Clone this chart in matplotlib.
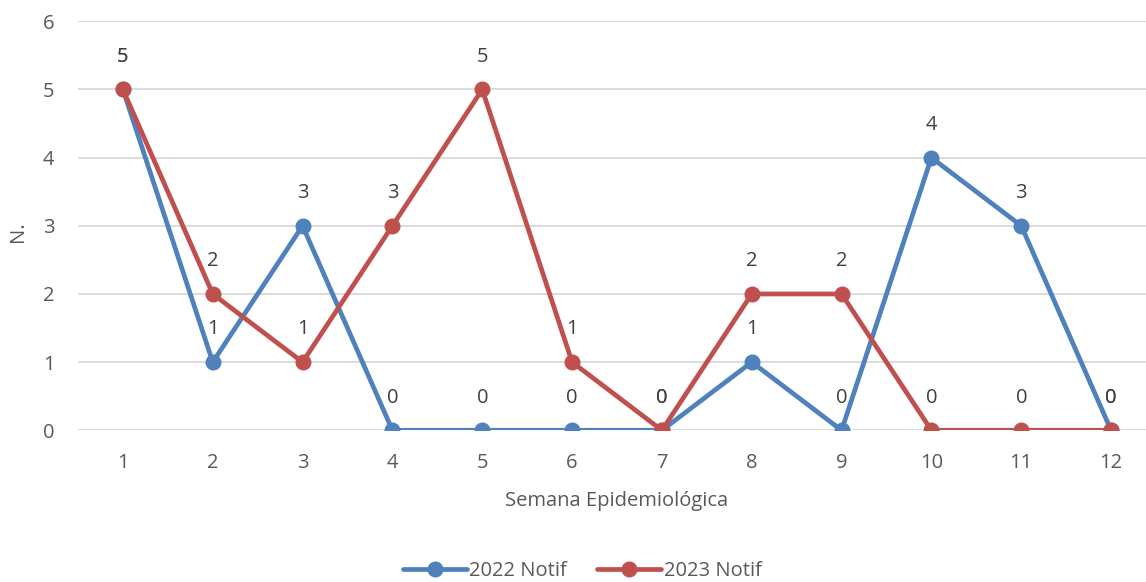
import matplotlib
matplotlib.use("Agg")
import matplotlib.pyplot as plt

weeks = [1, 2, 3, 4, 5, 6, 7, 8, 9, 10, 11, 12]
notif_2022 = [5, 1, 3, 0, 0, 0, 0, 1, 0, 4, 3, 0]
notif_2023 = [5, 2, 1, 3, 5, 1, 0, 2, 2, 0, 0, 0]
series_names = ["2022 Notif", "2023 Notif"]
y_ticks = [0, 1, 2, 3, 4, 5, 6]

plt.rcParams['font.family'] = ['Open Sans', 'DejaVu Sans']
txt = '#595959'
lab = '#404040'
blue = '#4F81BD'
red = '#C0504D'
fs = 14.5

fig = plt.figure(figsize=(11.46, 5.82), dpi=100)
ax = fig.add_axes([78/1146, 151.7/582, 1 - 78/1146, (560.7 - 151.7)/582])

for vals, col, name in [(notif_2022, blue, series_names[0]), (notif_2023, red, series_names[1])]:
    ax.plot(weeks, vals, color=col, lw=3.4, marker='o', ms=10.5, label=name,
            solid_capstyle='round', zorder=3)
    for x, y in zip(weeks, vals):
        ax.annotate(str(y), (x, y), xytext=(0, 23.5), textcoords='offset points',
                    ha='center', va='center', fontsize=fs, color=lab, zorder=4)

ax.set_xlim(0.5, 12.5 - 10/89.8)
ax.set_ylim(0, 6)
ax.set_yticks(y_ticks)
ax.set_xticks(weeks)
ax.set_xticklabels([str(w) for w in weeks])
ax.tick_params(axis='both', length=0, labelsize=fs, labelcolor=txt)
ax.tick_params(axis='x', pad=16)
ax.tick_params(axis='y', pad=17)
ax.grid(axis='y', color='#D9D9D9', lw=1.3)
ax.set_axisbelow(True)
for s in ax.spines.values():
    s.set_visible(False)

fig.text(18/1146, 1 - 232/582, 'N.', rotation=90, ha='center', va='center', fontsize=fs, color=txt)
fig.text(617/1146, 1 - 501/582, 'Semana Epidemiológica', ha='center', va='center', fontsize=fs, color=txt)

leg = fig.legend(loc='center', bbox_to_anchor=(582/1146, 1 - 571/582), ncol=2, frameon=False,
                 fontsize=fs, handlelength=3.2, handletextpad=0.1, columnspacing=1.5)
for t in leg.get_texts():
    t.set_color(txt)

fig.savefig('out.png', dpi=100)
